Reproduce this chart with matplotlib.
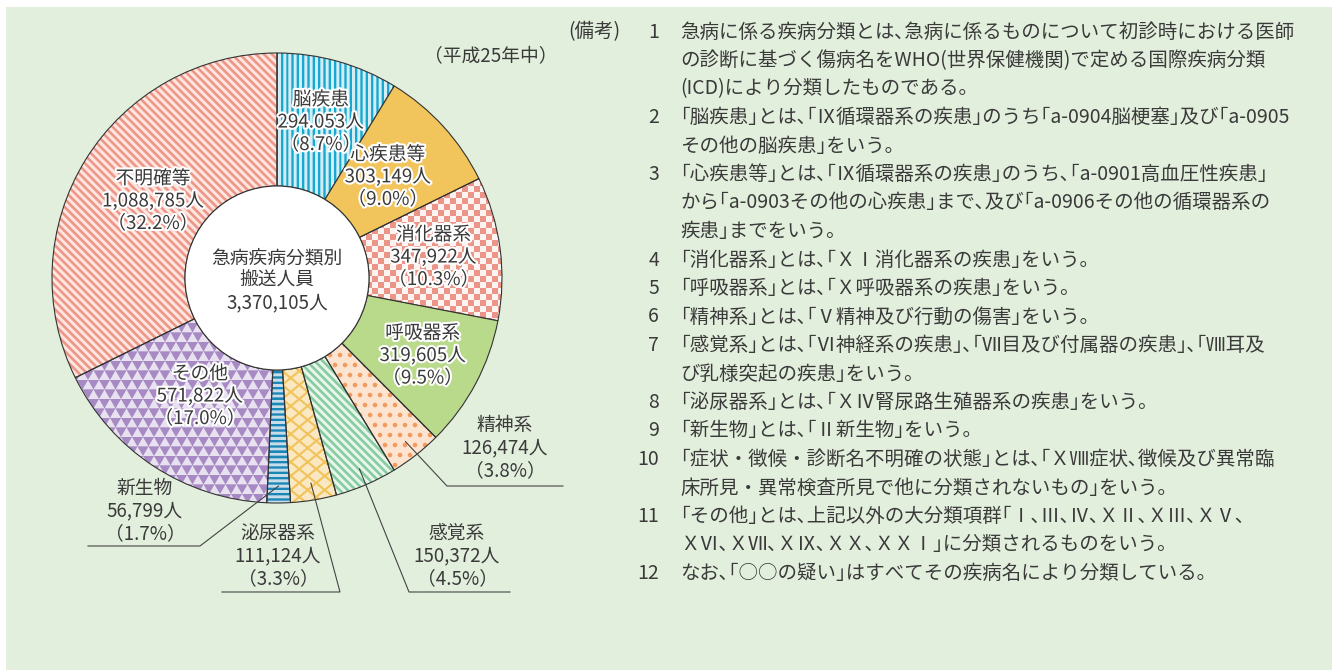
import numpy as np
import matplotlib.pyplot as plt
from matplotlib import patheffects as pe
from matplotlib.patches import Circle, Rectangle

plt.rcParams['font.family'] = ['Noto Sans CJK JP', 'DejaVu Sans']

W, H = 1332, 670

# data
names = ['脳疾患', '心疾患等', '消化器系', '呼吸器系', '精神系',
         '感覚系', '泌尿器系', '新生物', 'その他', '不明確等']
values = [294053, 303149, 347922, 319605, 126474,
          150372, 111124, 56799, 571822, 1088785]
count_text = ['294.053人', '303,149人', '347,922人', '319,605人', '126,474人',
              '150,372人', '111,124人', '56,799人', '571,822人', '1,088,785人']
pct_text = ['8.7', '9.0', '10.3', '9.5', '3.8', '4.5', '3.3', '1.7', '17.0', '32.2']
center_text = ['急病疾病分類別', '搬送人員', '3,370,105人']
year_text = '（平成25年中）'

notes = [
    ('1', '急病に係る疾病分類とは、急病に係るものについて初診時における医師'),
    ('', 'の診断に基づく傷病名をWHO（世界保健機関）で定める国際疾病分類'),
    ('', '（ICD）により分類したものである。'),
    ('2', '「脳疾患」とは、「Ⅸ循環器系の疾患」のうち「a-0904脳梗塞」及び「a-0905'),
    ('', 'その他の脳疾患」をいう。'),
    ('3', '「心疾患等」とは、「Ⅸ循環器系の疾患」のうち、「a-0901高血圧性疾患」'),
    ('', 'から「a-0903その他の心疾患」まで、及び「a-0906その他の循環器系の'),
    ('', '疾患」までをいう。'),
    ('4', '「消化器系」とは、「ＸⅠ消化器系の疾患」をいう。'),
    ('5', '「呼吸器系」とは、「Ｘ呼吸器系の疾患」をいう。'),
    ('6', '「精神系」とは、「Ⅴ精神及び行動の傷害」をいう。'),
    ('7', '「感覚系」とは、「Ⅵ神経系の疾患」、「Ⅶ目及び付属器の疾患」、「Ⅷ耳及'),
    ('', 'び乳様突起の疾患」をいう。'),
    ('8', '「泌尿器系」とは、「ＸⅣ腎尿路生殖器系の疾患」をいう。'),
    ('9', '「新生物」とは、「Ⅱ新生物」をいう。'),
    ('10', '「症状・徴候・診断名不明確の状態」とは、「ＸⅧ症状、徴候及び異常臨'),
    ('', '床所見・異常検査所見で他に分類されないもの」をいう。'),
    ('11', '「その他」とは、上記以外の大分類項群「Ⅰ、Ⅲ、Ⅳ、ＸⅡ、ＸⅢ、ＸⅤ、'),
    ('', 'ＸⅥ、ＸⅦ、ＸⅨ、ＸＸ、ＸＸⅠ」に分類されるものをいう。'),
    ('12', 'なお、「○○の疑い」はすべてその疾病名により分類している。'),
]

# fill styles (pattern, fg, bg)
fills = [
    ('vstripe', '#16a8cf', '#d3edf5'),
    ('solid', '#f2c55c', None),
    ('checker', '#eb9488', '#fdf3f0'),
    ('solid', '#b9d98b', None),
    ('dots', '#f19b5e', '#fde4d1'),
    ('diag', '#86cc9f', '#e6f5ea'),
    ('lattice', '#f1c35b', '#fbe8c2'),
    ('hstripe', '#1a86b6', '#c9dcea'),
    ('tri', '#a78ac3', '#e8e1f0'),
    ('diag', '#ee9587', '#fce5de'),
]

BG = '#e3efdd'
TXT = '#3a3a3a'
CX, CY = 277, 278
R, R_IN = 225, 92

fig = plt.figure(figsize=(W / 100, H / 100), dpi=100)
fig.patch.set_facecolor('white')
ax = fig.add_axes([0, 0, 1, 1])
ax.add_patch(Rectangle((6, 0), W - 6, H - 7, facecolor=BG, edgecolor='none', zorder=-5))

wedges, _ = ax.pie(values, startangle=90, counterclock=False, radius=R,
                   center=(CX, H - CY),
                   wedgeprops=dict(width=R - R_IN, edgecolor='#333333', linewidth=0.8))

SS = 3
X0, Y0, N = CX - R - 2, CY - R - 2, 2 * R + 4


def rgb(c):
    c = c.lstrip('#')
    return np.array([int(c[i:i + 2], 16) / 255 for i in (0, 2, 4)])


def texture(kind, fg, bg):
    c = (np.arange(N * SS) + 0.5) / SS
    px, py = np.meshgrid(c + X0, c + Y0)
    if kind == 'vstripe':
        m = (px % 5.3) < 2.3
    elif kind == 'hstripe':
        m = (py % 5.3) < 2.4
    elif kind == 'diag':
        m = ((px - py) % 8.0) < 3.6
    elif kind == 'checker':
        m = ((np.floor(px / 6) + np.floor(py / 6)) % 2) == 0
    elif kind == 'dots':
        sp = 10.0
        row = np.floor(py / sp)
        dx = (px + (row % 2) * sp / 2) % sp - sp / 2
        dy = py % sp - sp / 2
        m = dx ** 2 + dy ** 2 < 2.3 ** 2
    elif kind == 'lattice':
        u = px / 17 + py / 14
        v = px / 17 - py / 14
        m = ((u % 1) < 0.2) | ((v % 1) < 0.2)
    elif kind == 'tri':
        h, w = 9.5, 11.0
        row = np.floor(py / h)
        vv = (py % h) / h
        uu = ((px + (row % 2) * w / 2) % w) / w
        m = np.abs(uu - 0.5) < 0.5 * (1 - vv)
    img = np.where(m[..., None], rgb(fg), rgb(bg))
    img = img.reshape(N, SS, N, SS, 3).mean(axis=(1, 3))
    return img


for wdg, (kind, fg, bg) in zip(wedges, fills):
    if kind == 'solid':
        wdg.set_facecolor(fg)
        continue
    wdg.set_facecolor('none')
    im = ax.imshow(texture(kind, fg, bg), extent=(X0, X0 + N, H - (Y0 + N), H - Y0),
                   origin='upper', interpolation='nearest', zorder=0.5)
    im.set_clip_path(wdg)

ax.add_patch(Circle((CX, H - CY), R_IN, facecolor='white', edgecolor='#333333',
                    linewidth=0.8, zorder=3))

ax.set_xlim(0, W)
ax.set_ylim(0, H)
ax.set_aspect('auto')
ax.axis('off')

halo = [pe.withStroke(linewidth=3, foreground='white')]
FS = 13.5
LH = 22.5


def block(x, yc, lines, effects=None, fs=FS, lh=LH):
    n = len(lines)
    for i, s in enumerate(lines):
        y = yc + (i - (n - 1) / 2) * lh
        ax.text(x, H - y, s, ha='center', va='center', fontsize=fs, color=TXT,
                path_effects=effects, zorder=6)


def label_lines(i):
    return [names[i], count_text[i], '（' + pct_text[i] + '%）']


# labels inside the ring, placed along the wedge mid angle
inside_r = {0: 162, 1: 150, 2: 158, 3: 165, 8: 141, 9: 146}
for i, r in inside_r.items():
    w = wedges[i]
    a = np.deg2rad((w.theta1 + w.theta2) / 2)
    x = CX + r * np.cos(a)
    y = CY - r * np.sin(a)
    block(x, y, label_lines(i), halo)

# labels outside with leader lines (elbow, end, text centre)
outside = {4: ((447, 486), (563, 486), (505, 448)),
           5: ((409, 592), (510, 592), (457, 556)),
           6: ((340, 592), (222, 592), (278, 556)),
           7: ((200, 546), (88, 546), (145, 511))}
for i, (elbow, end, tc) in outside.items():
    w = wedges[i]
    a = np.deg2rad((w.theta1 + w.theta2) / 2)
    sx = CX + 208 * np.cos(a)
    sy = CY - 208 * np.sin(a)
    ax.plot([sx, elbow[0], end[0]], [H - sy, H - elbow[1], H - end[1]],
            color='#444444', lw=0.8, zorder=7, solid_joinstyle='miter')
    block(tc[0], tc[1], label_lines(i))

block(CX, 280, center_text)
ax.text(491, H - 57, year_text, ha='center', va='center', fontsize=FS, color=TXT)

# notes: narrow (half-width) punctuation, as in the typeset original
NFS = 14
narrow = str.maketrans({'「': '｢', '」': '｣', '、': '､', '。': '｡', '（': '(', '）': ')'})
ax.text(568, H - 32, '（備考）'.translate(narrow), ha='left', va='center',
        fontsize=NFS, color=TXT)
y = 32
for num, s in notes:
    if num:
        ax.text(659, H - y, num, ha='right', va='center', fontsize=NFS, color=TXT)
    ax.text(680, H - y, s.translate(narrow), ha='left', va='center',
            fontsize=NFS, color=TXT)
    y += 28.5

fig.savefig('out.png', dpi=100, facecolor=fig.get_facecolor())
